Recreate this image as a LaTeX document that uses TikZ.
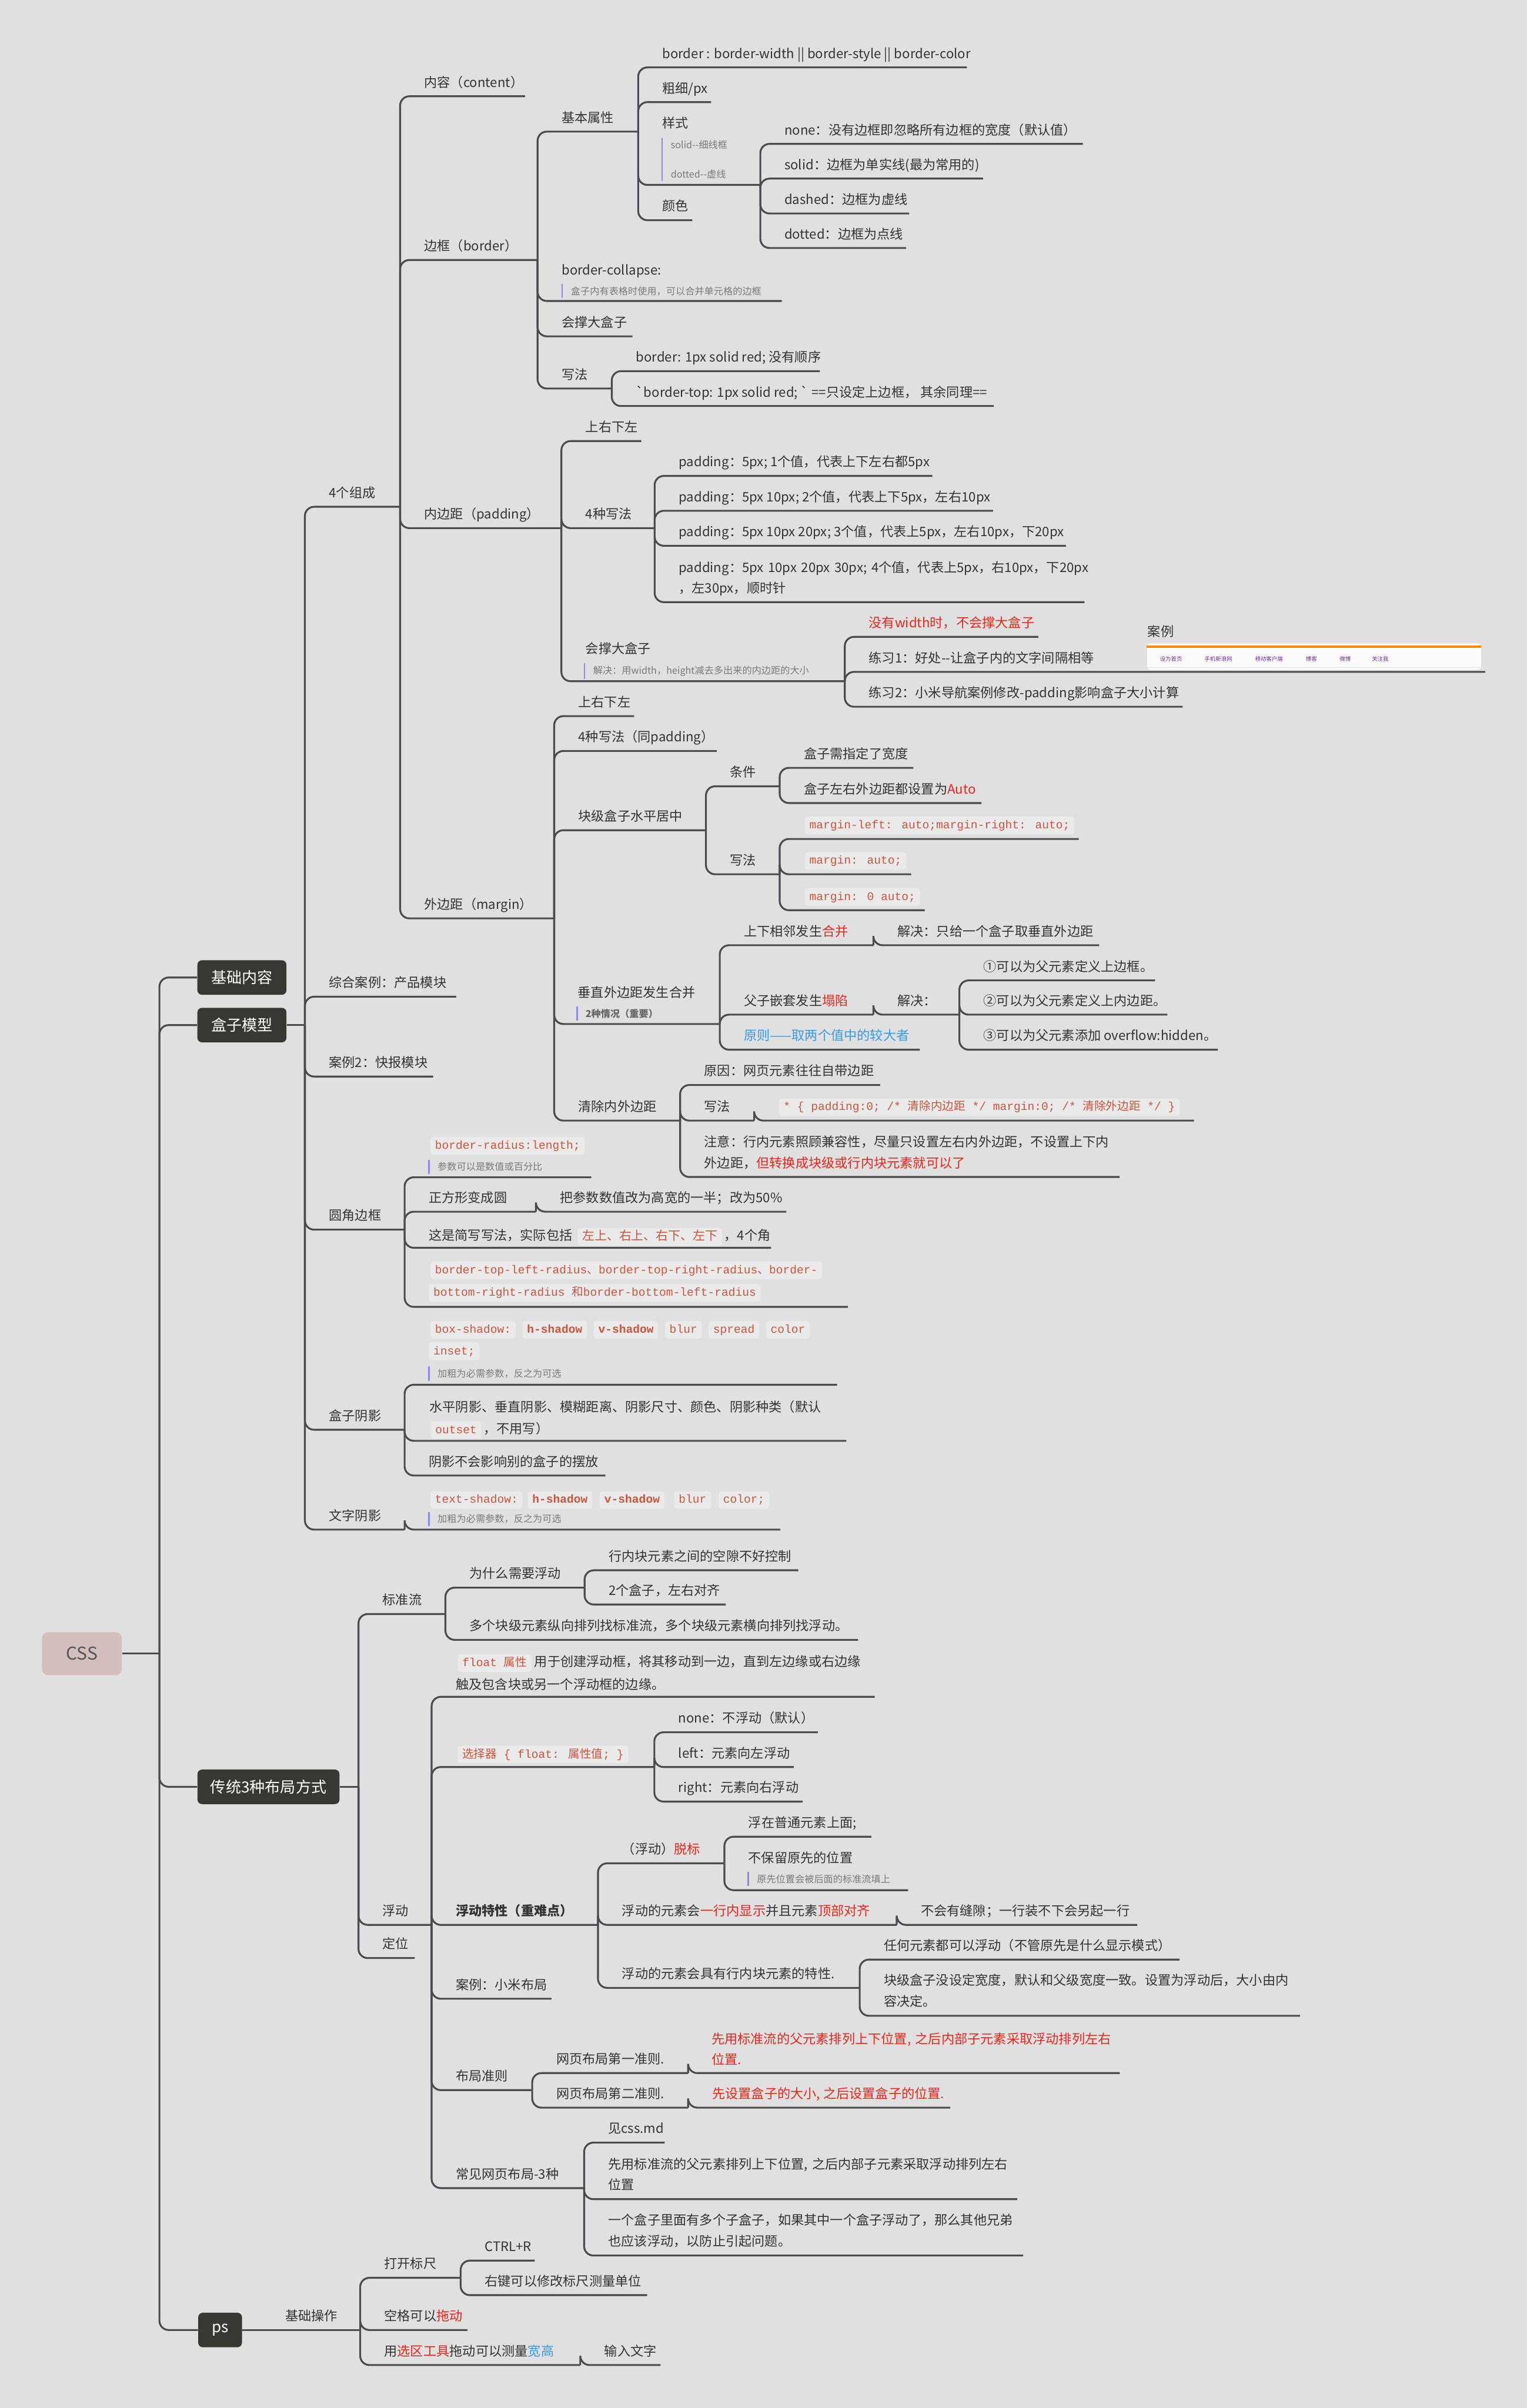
\documentclass[tikz,border=0pt]{standalone}
\usepackage{fontspec}
\newfontfamily\cjk{Noto Sans CJK SC}
\newfontfamily\codefont{Liberation Mono}
\definecolor{bgc}{HTML}{E0E0E0}
\definecolor{lc}{HTML}{4A4A50}
\definecolor{tc}{HTML}{333333}
\definecolor{boxc}{HTML}{383832}
\definecolor{rootc}{HTML}{D4BFBD}
\definecolor{roott}{HTML}{55555C}
\definecolor{codefg}{HTML}{C8553D}
\definecolor{codebg}{HTML}{EAEAEA}
\definecolor{notec}{HTML}{7A7A7A}
\definecolor{barc}{HTML}{8B8BDF}
\definecolor{redc}{HTML}{E5281E}
\definecolor{bluec}{HTML}{3A9BE0}
\definecolor{menuc}{HTML}{6B2D8E}
\definecolor{orangec}{HTML}{FF8A00}
\newcommand\rd[1]{\textcolor{redc}{#1}}
\newcommand\bl[1]{\textcolor{bluec}{#1}}
\newcommand\Tp[6][]{\node[tt,#1] (#2) at ({#3+15.5},{#4-6}) {#6};\coordinate (#2-e) at (#5,#4);}
\newcommand\Cx[2]{\draw[conn] (#1-e) |- (#2-e);}
\tikzset{
 conn/.style={draw=lc, line width=1.2pt, rounded corners=6pt},
 tt/.style={anchor=base west, inner sep=0pt, text=tc, font=\cjk\fontsize{8.5}{13.6}\selectfont},
 ml/.style={tt, text width=#1, align=left},
 note/.style={anchor=base west, inner xsep=0pt, inner ysep=1.5pt, text=notec, font=\cjk\fontsize{6.2}{8}\selectfont},
 nbar/.style={draw=barc, line width=0.9pt},
 code/.style={anchor=base west, fill=codebg, text=codefg, rounded corners=2pt, inner xsep=3pt, inner ysep=1.9pt, text height=6pt, text depth=1.8pt, font=\codefont\fontsize{7.5}{9}\selectfont},
 codeb/.style={code, font=\codefont\fontsize{7.5}{9}\selectfont\bfseries},
 lbox/.style={fill=boxc, text=white, rounded corners=3pt, minimum height=22.5pt, inner xsep=0pt, font=\cjk\fontsize{10}{12}\selectfont},
 menu/.style={anchor=west, inner sep=0pt, text=menuc, font=\cjk\fontsize{3.6}{4}\selectfont},
}
\begin{document}
\begin{tikzpicture}[x=1pt,y=-1pt]
\fill[bgc] (0,0) rectangle (994,1568);
\useasboundingbox (0,0) rectangle (994,1568);

% root and level 1
\node[fill=rootc, rounded corners=4pt, minimum width=52pt, minimum height=28pt, text=roott, font=\cjk\fontsize{11.5}{13}\selectfont] (css) at (53.3,1076.8) {CSS};
\coordinate (rt) at (103.8,1076.8);
\node[lbox, minimum width=58pt] (jc) at (157.5,636.5) {基础内容};
\node[lbox, minimum width=58pt] (hz) at (157.5,667.5) {盒子模型};
\node[lbox, minimum width=92.5pt] (ct) at (174.8,1163.5) {传统3种布局方式};
\node[lbox, minimum width=28.5pt] (ps) at (143.3,1517.2) {ps};
\draw[conn] (css.east) -- (rt);
\foreach \b in {jc,hz,ct,ps} {\draw[conn] (rt) |- (\b.west);}

% box model
\coordinate (hz-e) at (198.5,667.5);
\draw[conn] (hz.east) -- (hz-e);
\Tp{zc}{198.5}{330}{260.5}{4个组成}
\Tp{zh}{198.5}{649}{297}{综合案例：产品模块}
\Tp{kb}{198.5}{701}{282}{案例2：快报模块}
\Tp{yj}{198.5}{800.7}{263.4}{圆角边框}
\Tp{hs}{198.5}{931}{263.4}{盒子阴影}
\Tp{ws}{198.5}{996}{263.4}{文字阴影}
\foreach \c in {zc,zh,kb,yj,hs,ws} {\Cx{hz}{\c}}

\Tp{nr}{260.5}{62.7}{341.8}{内容（content）}
\Tp{bk}{260.5}{169.3}{350}{边框（border）}
\Tp{nb}{260.5}{343.9}{365.5}{内边距（padding）}
\Tp{wb}{260.5}{598}{360.8}{外边距（margin）}
\foreach \c in {nr,bk,nb,wb} {\Cx{zc}{\c}}

% border
\Tp{jb}{350}{85.7}{415.5}{基本属性}
\node[tt] (bc) at (365.5,178.8) {border-collapse:};
\node[note] (bcn) at (371.5,191.8) {盒子内有表格时使用，可以合并单元格的边框};
\draw[nbar] ([xshift=-5.5pt]bcn.north west) -- ([xshift=-5.5pt]bcn.south west);
\coordinate (bc-e) at (509,196);
\Tp{cd}{350}{219}{411.8}{会撑大盒子}
\Tp{xf}{350}{253}{398.3}{写法}
\foreach \c in {jb,bc,cd,xf} {\Cx{bk}{\c}}

\Tp{b1}{415.5}{43.9}{629.5}{border : border-width || border-style || border-color}
\Tp{b2}{415.5}{66.5}{463}{粗细/px}
\node[tt] (b3) at (431,83.3) {样式};
\node[note] (b3a) at (436.5,96.8) {solid--细线框};
\node[note] (b3b) at (436.5,115.9) {dotted--虚线};
\draw[nbar] ([xshift=-5.5pt]b3a.north west) -- ([xshift=-5.5pt]b3b.south west);
\coordinate (b3-e) at (495,120.4);
\Tp{b4}{415.5}{143.4}{450.7}{颜色}
\foreach \c in {b1,b2,b3,b4} {\Cx{jb}{\c}}

\Tp{s1}{495}{93.7}{705}{none：没有边框即忽略所有边框的宽度（默认值）}
\Tp{s2}{495}{116.3}{640}{solid：边框为单实线(最为常用的)}
\Tp{s3}{495}{139}{592}{dashed：边框为虚线}
\Tp{s4}{495}{161.5}{590}{dotted：边框为点线}
\foreach \c in {s1,s2,s3,s4} {\Cx{b3}{\c}}

\Tp{w1}{398.3}{241.7}{533.8}{border: 1px solid red; 没有顺序}
\Tp{w2}{398.3}{264.4}{647}{`border-top: 1px solid red; ` ==只设定上边框，\ 其余同理==}
\foreach \c in {w1,w2} {\Cx{xf}{\c}}

% padding
\Tp{p1}{365.5}{287.2}{417.5}{上右下左}
\Tp{p2}{365.5}{343.9}{426.2}{4种写法}
\node[tt] (p3) at (381,425.5) {会撑大盒子};
\node[note] (p3n) at (386,438.9) {解决：用width，height减去多出来的内边距的大小};
\draw[nbar] ([xshift=-5.4pt]p3n.north west) -- ([xshift=-5.4pt]p3n.south west);
\coordinate (p3-e) at (550,443.6);
\foreach \c in {p1,p2,p3} {\Cx{nb}{\c}}

\Tp{q1}{426.2}{309.9}{607}{padding：5px; 1个值，代表上下左右都5px}
\Tp{q2}{426.2}{332.6}{646.5}{padding：5px 10px; 2个值，代表上下5px，左右10px}
\Tp{q3}{426.2}{355.4}{694}{padding：5px 10px 20px; 3个值，代表上5px，左右10px，下20px}
\node[ml=300pt] (q4) at (441.7,372.5) {padding：5px 10px 20px 30px; 4个值，代表上5px，右10px，下20px\\，左30px，顺时针};
\coordinate (q4-e) at (706,392.1);
\foreach \c in {q1,q2,q3,q4} {\Cx{p2}{\c}}

\Tp{c1}{550}{414.7}{676}{\rd{没有width时，不会撑大盒子}}
\Tp{c2}{550}{437.5}{967}{练习1：好处--让盒子内的文字间隔相等}
\Tp{c3}{550}{460.2}{770}{练习2：小米导航案例修改-padding影响盒子大小计算}
\foreach \c in {c1,c2,c3} {\Cx{p3}{\c}}
\node[tt] (al) at (747,414.3) {案例};
\node[fill=white!98!gray, rounded corners=2pt, minimum width=217.4pt, minimum height=17.2pt, anchor=north west, inner sep=0pt] (img) at (746.6,418.8) {};
\draw[orangec, line width=1.2pt] ([yshift=-2.3pt]img.north west) -- ([yshift=-2.3pt]img.north east);
\draw[gray!25, line width=0.4pt] ([yshift=1.8pt]img.south west) -- ([yshift=1.8pt]img.south east);
\node[menu] (mn1) at (755,429) {设为首页};
\node[menu] (mn2) at (784,429) {手机新浪网};
\node[menu] (mn3) at (817,429) {移动客户端};
\node[menu] (mn4) at (850,429) {博客};
\node[menu] (mn5) at (872,429) {微博};
\node[menu] (mn6) at (893,429) {关注我};

% margin
\Tp{m1}{360.8}{466.3}{412.8}{上右下左}
\Tp{m2}{360.8}{489}{466.6}{4种写法（同padding）}
\Tp{m3}{360.8}{540.6}{459.6}{块级盒子水平居中}
\node[tt] (m4) at (376,649.3) {垂直外边距发生合并};
\node[note, font=\cjk\bfseries\fontsize{6.2}{8}\selectfont, text=notec!85!black] (m4n) at (381,662.4) {2种情况（重要）};
\draw[nbar] ([xshift=-5.3pt]m4n.north west) -- ([xshift=-5.3pt]m4n.south west);
\coordinate (m4-e) at (468.6,666.8);
\Tp{m5}{360.8}{729.7}{442.8}{清除内外边距}
\foreach \c in {m1,m2,m3,m4,m5} {\Cx{wb}{\c}}

\Tp{k1}{459.6}{512}{507.6}{条件}
\Tp{k2}{459.6}{569.3}{507.6}{写法}
\foreach \c in {k1,k2} {\Cx{m3}{\c}}
\Tp{k11}{507.6}{500}{594.6}{盒子需指定了宽度}
\Tp{k12}{507.6}{522.9}{639}{盒子左右外边距都设置为\rd{Auto}}
\foreach \c in {k11,k12} {\Cx{k1}{\c}}
\node[code] (k21) at (523.8,539.7) {margin-left: auto;margin-right: auto;};
\coordinate (k21-e) at (702.3,546.3);
\node[code] (k22) at (523.8,562.7) {margin: auto;};
\coordinate (k22-e) at (593.2,569.3);
\node[code] (k23) at (523.8,586.1) {margin: 0 auto;};
\coordinate (k23-e) at (602,592.7);
\foreach \c in {k21,k22,k23} {\Cx{k2}{\c}}

\Tp{v1}{468.6}{615.5}{568.6}{上下相邻发生\rd{合并}}
\Tp{v1a}{568.6}{615.5}{715.6}{解决：只给一个盒子取垂直外边距}
\Tp{v2}{468.6}{660.7}{568.6}{父子嵌套发生\rd{塌陷}}
\Tp{v2a}{568.6}{660.7}{624.6}{解决：}
\Tp{v3}{468.6}{683.5}{598.9}{\bl{原则——取两个值中的较大者}}
\foreach \c in {v1,v2,v3} {\Cx{m4}{\c}}
\Cx{v1}{v1a}
\Cx{v2}{v2a}
\Tp{v21}{624.6}{638.4}{752}{①可以为父元素定义上边框。}
\Tp{v22}{624.6}{660.7}{760}{②可以为父元素定义上内边距。}
\Tp{v23}{624.6}{683.5}{792.8}{③可以为父元素添加 overflow:hidden。}
\foreach \c in {v21,v22,v23} {\Cx{v2a}{\c}}

\Tp{e1}{442.8}{706.5}{573}{原因：网页元素往往自带边距}
\Tp{e2}{442.8}{729.7}{491}{写法}
\node[code] (e2c) at (506.8,723.1) {* \{ padding:0; /* {\cjk 清除内边距} */ margin:0; /* {\cjk 清除外边距} */ \}};
\coordinate (e2c-e) at (777.3,729.7);
\node[ml=300pt] (e3) at (458.3,746.7) {注意：行内元素照顾兼容性，尽量只设置左右内外边距，不设置上下内\\外边距，\rd{但转换成块级或行内块元素就可以了}};
\coordinate (e3-e) at (728.9,766.4);
\foreach \c in {e1,e2,e3} {\Cx{m5}{\c}}
\Cx{e2}{e2c}

% rounded corners
\node[code] (r1) at (280,748.3) {border-radius:length;};
\node[note] (r1n) at (284.7,762.1) {参数可以是数值或百分比};
\draw[nbar] ([xshift=-5.5pt]r1n.north west) -- ([xshift=-5.5pt]r1n.south west);
\coordinate (r1-e) at (385,766.6);
\Tp{r2}{263.4}{789}{348.9}{正方形变成圆}
\Tp{r2a}{348.9}{789}{512}{把参数数值改为高宽的一半；改为50\%}
\node[tt] (r3) at (279,807.5) {这是简写写法，实际包括};
\node[code, font=\cjk\fontsize{8}{9}\selectfont] (r3c) at ([xshift=3pt]r3.base east) {左上、右上、右下、左下};
\node[tt] (r3b) at ([xshift=1pt]r3c.base east) {，4个角};
\coordinate (r3-e) at (502,812.5);
\node[code] (r4a) at (280,829.2) {border-top-left-radius{\cjk 、}border-top-right-radius{\cjk 、}border-};
\node[code] (r4b) at (279,843.8) {bottom-right-radius {\cjk 和}border-bottom-left-radius};
\coordinate (r4-e) at (552,851);
\foreach \c in {r1,r2,r3,r4} {\Cx{yj}{\c}}
\Cx{r2}{r2a}

% box shadow
\node[code] (h1a) at (280,868) {box-shadow:\ };
\node[codeb] (h1b) at ([xshift=4pt]h1a.base east) {h-shadow};
\node[codeb] (h1c) at ([xshift=4pt]h1b.base east) {v-shadow};
\node[code] (h1d) at ([xshift=4pt]h1c.base east) {blur};
\node[code] (h1f) at ([xshift=4pt]h1d.base east) {spread};
\node[code] (h1g) at ([xshift=4pt]h1f.base east) {color};
\node[code] (h1h) at (279,882) {inset;};
\node[note] (h1n) at (284.7,896.7) {加粗为必需参数，反之为可选};
\draw[nbar] ([xshift=-5.5pt]h1n.north west) -- ([xshift=-5.5pt]h1n.south west);
\coordinate (h1-e) at (545,901.7);
\node[tt] (h2) at (279.4,919.5) {水平阴影、垂直阴影、模糊距离、阴影尺寸、颜色、阴影种类（默认};
\node[code] (h2c) at (280.2,933.3) {outset};
\node[tt] (h2b) at ([xshift=1pt]h2c.base east) {，不用写）};
\coordinate (h2-e) at (551,938.2);
\Tp{h3}{263.4}{960.8}{394.1}{阴影不会影响别的盒子的摆放}
\foreach \c in {h1,h2,h3} {\Cx{hs}{\c}}

% text shadow
\node[code] (t1a) at (280,978.8) {text-shadow:\ };
\node[codeb] (t1b) at ([xshift=3pt]t1a.base east) {h-shadow};
\node[codeb] (t1c) at ([xshift=4.5pt]t1b.base east) {v-shadow};
\node[code] (t1d) at ([xshift=6pt]t1c.base east) {blur};
\node[code] (t1f) at ([xshift=4.5pt]t1d.base east) {color;};
\node[note] (t1n) at (284.7,991.4) {加粗为必需参数，反之为可选};
\draw[nbar] ([xshift=-5.5pt]t1n.north west) -- ([xshift=-5.5pt]t1n.south west);
\coordinate (t1-e) at (508,996);
\Cx{ws}{t1}

% layout
\coordinate (ct-e) at (233.4,1163.5);
\draw[conn] (ct.east) -- (ct-e);
\Tp{bz}{233.4}{1051}{290}{标准流}
\Tp{fd}{233.4}{1253.4}{281}{浮动}
\Tp{dw}{233.4}{1275}{270}{定位}
\foreach \c in {bz,fd,dw} {\Cx{ct}{\c}}

\Tp{bz1}{290}{1033.8}{380.6}{为什么需要浮动}
\Tp{bz2}{290}{1067.8}{558.7}{多个块级元素纵向排列找标准流，多个块级元素横向排列找浮动。}
\foreach \c in {bz1,bz2} {\Cx{bz}{\c}}
\Tp{bz11}{380.6}{1022.5}{519.7}{行内块元素之间的空隙不好控制}
\Tp{bz12}{380.6}{1044.8}{472.4}{2个盒子，左右对齐}
\foreach \c in {bz11,bz12} {\Cx{bz1}{\c}}

\node[code] (f1c) at (297.8,1085) {float {\cjk 属性}};
\node[tt] (f1) at ([xshift=1.5pt]f1c.base east) {用于创建浮动框，将其移动到一边，直到左边缘或右边缘};
\node[tt] (f1b) at (296.6,1100.1) {触及包含块或另一个浮动框的边缘。};
\coordinate (f1-e) at (569.5,1104.9);
\node[code] (f2) at (297.8,1144.6) {{\cjk 选择器} \{ float: {\cjk 属性值}; \}};
\coordinate (f2-e) at (426,1150.6);
\Tp[font=\cjk\bfseries\fontsize{8.5}{13.6}\selectfont]{f3}{281}{1253.4}{389.3}{浮动特性（重难点）}
\Tp{f4}{281}{1301.5}{359}{案例：小米布局}
\Tp{f5}{281}{1361}{346.5}{布局准则}
\Tp{f6}{281}{1424.8}{380.3}{常见网页布局-3种}
\foreach \c in {f1,f2,f3,f4,f5,f6} {\Cx{fd}{\c}}

\Tp{f21}{426}{1128}{532.4}{none：不浮动（默认）}
\Tp{f22}{426}{1150.6}{516.7}{left：元素向左浮动}
\Tp{f23}{426}{1173.1}{522.6}{right：元素向右浮动}
\foreach \c in {f21,f22,f23} {\Cx{f2}{\c}}

\Tp{f31}{389.3}{1213.3}{471.6}{（浮动）\rd{脱标}}
\Tp{f32}{389.3}{1253.4}{583.8}{浮动的元素会\rd{一行内显示}并且元素\rd{顶部对齐}}
\Tp{f33}{389.3}{1294.4}{559.7}{浮动的元素会具有行内块元素的特性.}
\foreach \c in {f31,f32,f33} {\Cx{f3}{\c}}
\Tp{f311}{471.6}{1196}{567.3}{浮在普通元素上面;}
\node[tt] (f312) at (487,1212.9) {不保留原先的位置};
\node[note] (f312n) at (492.6,1225.9) {原先位置会被后面的标准流填上};
\draw[nbar] ([xshift=-5.5pt]f312n.north west) -- ([xshift=-5.5pt]f312n.south west);
\coordinate (f312-e) at (591.2,1230.8);
\foreach \c in {f311,f312} {\Cx{f31}{\c}}
\Tp{f32a}{583.8}{1253.4}{740.4}{不会有缝隙；一行装不下会另起一行}
\Cx{f32}{f32a}
\Tp{f331}{559.7}{1276}{768}{任何元素都可以浮动（不管原先是什么显示模式）}
\node[ml=320pt] (f332) at (575.2,1292.6) {块级盒子没设定宽度，默认和父级宽度一致。设置为浮动后，大小由内\\容决定。};
\coordinate (f332-e) at (846.3,1312.6);
\foreach \c in {f331,f332} {\Cx{f33}{\c}}

\Tp{f51}{346.5}{1349.9}{448}{网页布局第一准则.}
\Tp{f52}{346.5}{1372.4}{448}{网页布局第二准则.}
\foreach \c in {f51,f52} {\Cx{f5}{\c}}
\node[ml=300pt, text=redc] (f51a) at (463,1330.7) {先用标准流的父元素排列上下位置, 之后内部子元素采取浮动排列左右\\位置.};
\coordinate (f51a-e) at (729,1349.9);
\Cx{f51}{f51a}
\Tp{f52a}{448}{1372.4}{618.7}{\rd{先设置盒子的大小, 之后设置盒子的位置.}}
\Cx{f52}{f52a}

\Tp{f61}{380.3}{1395.2}{432.7}{见css.md}
\node[ml=300pt] (f62) at (395.8,1412.3) {先用标准流的父元素排列上下位置, 之后内部子元素采取浮动排列左右\\位置};
\coordinate (f62-e) at (662.3,1432);
\node[ml=300pt] (f63) at (395.8,1448.9) {一个盒子里面有多个子盒子，如果其中一个盒子浮动了，那么其他兄弟\\也应该浮动，以防止引起问题。};
\coordinate (f63-e) at (666.1,1468.7);
\foreach \c in {f61,f62,f63} {\Cx{f6}{\c}}

% ps
\Tp{jczz}{170}{1517.2}{234.5}{基础操作}
\draw[conn] (ps.east) -- (jczz-e);
\Tp{dk}{234.5}{1483.2}{299.9}{打开标尺}
\Tp{kg}{234.5}{1517.2}{304.4}{空格可以\rd{拖动}}
\Tp{yx}{234.5}{1540}{377.8}{用\rd{选区工具}拖动可以测量\bl{宽高}}
\foreach \c in {dk,kg,yx} {\Cx{jczz}{\c}}
\Tp{dk1}{299.9}{1472}{348.1}{CTRL+R}
\Tp{dk2}{299.9}{1494.5}{421.3}{右键可以修改标尺测量单位}
\foreach \c in {dk1,dk2} {\Cx{dk}{\c}}
\Tp{yxa}{377.8}{1540}{430}{输入文字}
\Cx{yx}{yxa}
\end{tikzpicture}
\end{document}
